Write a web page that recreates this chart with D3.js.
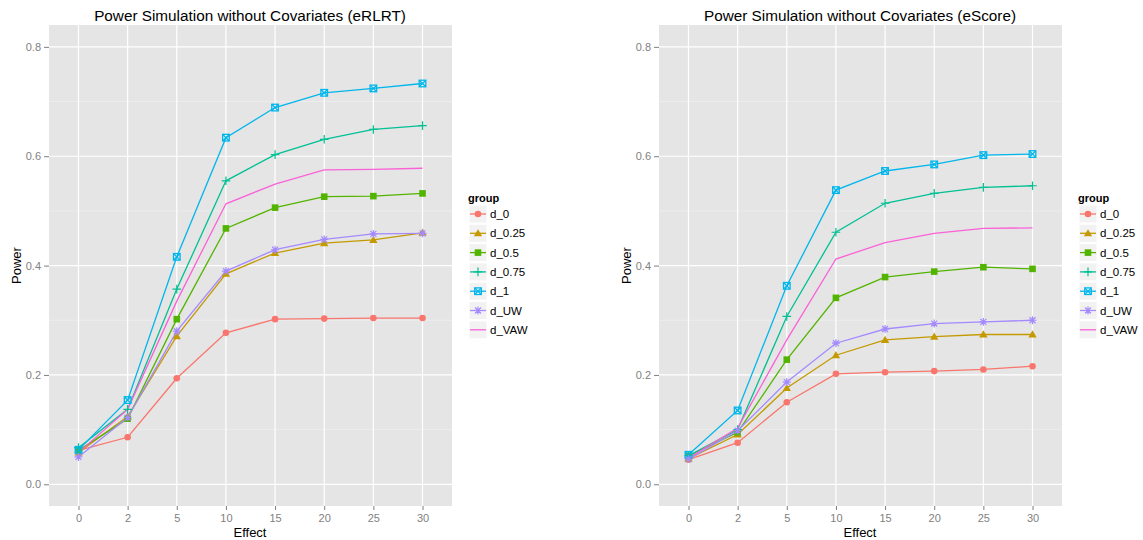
<!DOCTYPE html>
<html><head><meta charset="utf-8">
<script src="https://cdn.jsdelivr.net/npm/d3@7"></script>
<style>body{margin:0;background:#fff;} text{font-family:"Liberation Sans",Arial,sans-serif;}</style>
</head><body><svg id="chart" width="1143" height="540"></svg>
<script>
const effects = ["0","2","5","10","15","20","25","30"];
const groups = ["d_0","d_0.25","d_0.5","d_0.75","d_1","d_UW","d_VAW"];
const colors = ["#F8766D","#C49A00","#53B400","#00C094","#00B6EB","#A58AFF","#FB61D7"];
const shapes = ["circle","triangle","square","plus","boxx","asterisk","none"];
const yTicks = [0.0,0.2,0.4,0.6,0.8];
const titles = ["Power Simulation without Covariates (eRLRT)","Power Simulation without Covariates (eScore)"];

// eRLRT
const rlrt_d0   = [0.062,0.086,0.194,0.277,0.302,0.303,0.304,0.304];
const rlrt_d025 = [0.058,0.124,0.271,0.385,0.423,0.441,0.447,0.460];
const rlrt_d05  = [0.062,0.120,0.302,0.468,0.506,0.526,0.527,0.532];
const rlrt_d075 = [0.067,0.137,0.357,0.555,0.603,0.631,0.649,0.656];
const rlrt_d1   = [0.063,0.154,0.416,0.634,0.689,0.716,0.724,0.733];
const rlrt_dUW  = [0.050,0.122,0.280,0.390,0.429,0.448,0.458,0.459];
const rlrt_dVAW = [0.058,0.137,0.335,0.513,0.549,0.575,0.576,0.578];
// eScore
const score_d0   = [0.045,0.076,0.150,0.202,0.205,0.207,0.210,0.216];
const score_d025 = [0.047,0.091,0.176,0.236,0.264,0.270,0.274,0.274];
const score_d05  = [0.052,0.095,0.228,0.341,0.379,0.389,0.397,0.394];
const score_d075 = [0.052,0.100,0.307,0.461,0.514,0.532,0.543,0.546];
const score_d1   = [0.054,0.135,0.363,0.538,0.573,0.585,0.602,0.604];
const score_dUW  = [0.046,0.098,0.187,0.258,0.284,0.294,0.297,0.300];
const score_dVAW = [0.048,0.103,0.264,0.412,0.442,0.459,0.468,0.469];

const panelsData = [
  [rlrt_d0,rlrt_d025,rlrt_d05,rlrt_d075,rlrt_d1,rlrt_dUW,rlrt_dVAW],
  [score_d0,score_d025,score_d05,score_d075,score_d1,score_dUW,score_dVAW]
];

const svg = d3.select("#chart");
svg.append("rect").attr("width",1143).attr("height",540).attr("fill","#fff");

function drawShape(g, shape, x, y, color){
  const s = 3.3;
  if(shape==="circle"){
    g.append("circle").attr("cx",x).attr("cy",y).attr("r",s).attr("fill",color);
  } else if(shape==="triangle"){
    const h=s*1.15;
    g.append("path").attr("d",`M${x},${y-h*1.1}L${x+h*1.1},${y+h*0.8}L${x-h*1.1},${y+h*0.8}Z`).attr("fill",color);
  } else if(shape==="square"){
    g.append("rect").attr("x",x-s).attr("y",y-s).attr("width",2*s).attr("height",2*s).attr("fill",color);
  } else if(shape==="plus"){
    const r=s*1.3;
    g.append("path").attr("d",`M${x-r},${y}H${x+r}M${x},${y-r}V${y+r}`).attr("stroke",color).attr("stroke-width",1.2).attr("fill","none");
  } else if(shape==="boxx"){
    const r=s;
    g.append("rect").attr("x",x-r).attr("y",y-r).attr("width",2*r).attr("height",2*r).attr("fill","none").attr("stroke",color).attr("stroke-width",1.3);
    g.append("path").attr("d",`M${x-r},${y-r}L${x+r},${y+r}M${x+r},${y-r}L${x-r},${y+r}`).attr("stroke",color).attr("stroke-width",1.3);
  } else if(shape==="asterisk"){
    const r=s*1.2, q=r*0.75;
    g.append("path").attr("d",`M${x-r},${y}H${x+r}M${x},${y-r}V${y+r}M${x-q},${y-q}L${x+q},${y+q}M${x+q},${y-q}L${x-q},${y+q}`).attr("stroke",color).attr("stroke-width",1.2).attr("fill","none");
  }
}

const panelX = [49, 659];
const pw = 403, pTop = 25, pBottom = 506;
const centers = [250, 860];

panelsData.forEach((series, pi) => {
  const x0 = panelX[pi];
  const x = d3.scalePoint().domain(effects).range([x0, x0+pw]).padding(0.6);
  const y = d3.scaleLinear().domain([-0.0397, 0.840]).range([pBottom, pTop]);
  const g = svg.append("g");
  g.append("rect").attr("x",x0).attr("y",pTop).attr("width",pw).attr("height",pBottom-pTop).attr("fill","#E5E5E5");
  [0.1,0.3,0.5,0.7].forEach(v=>{
    g.append("line").attr("x1",x0).attr("x2",x0+pw).attr("y1",y(v)).attr("y2",y(v)).attr("stroke","#F2F2F2").attr("stroke-width",0.6);
  });
  yTicks.forEach(v=>{
    g.append("line").attr("x1",x0).attr("x2",x0+pw).attr("y1",y(v)).attr("y2",y(v)).attr("stroke","#fff").attr("stroke-width",1.2);
  });
  effects.forEach(e=>{
    g.append("line").attr("x1",x(e)).attr("x2",x(e)).attr("y1",pTop).attr("y2",pBottom).attr("stroke","#fff").attr("stroke-width",1.2);
  });
  const yAxis = d3.axisLeft(y).tickValues(yTicks).tickFormat(d3.format(".1f")).tickSize(5).tickPadding(3);
  const ya = g.append("g").attr("transform",`translate(${x0},0)`).call(yAxis);
  ya.select(".domain").remove();
  ya.selectAll("line").attr("stroke","#7F7F7F");
  ya.selectAll("text").attr("fill","#7F7F7F").style("font-size","11px");
  const xAxis = d3.axisBottom(x).tickSize(4).tickPadding(4);
  const xa = g.append("g").attr("transform",`translate(0,${pBottom})`).call(xAxis);
  xa.select(".domain").remove();
  xa.selectAll("line").attr("stroke","#7F7F7F");
  xa.selectAll("text").attr("fill","#7F7F7F").style("font-size","11px");
  svg.append("text").attr("x",centers[pi]).attr("y",21).attr("text-anchor","middle").style("font-size","15.3px").attr("fill","#000").text(titles[pi]);
  svg.append("text").attr("x",centers[pi]).attr("y",537).attr("text-anchor","middle").style("font-size","13px").attr("fill","#000").text("Effect");
  svg.append("text").attr("transform",`translate(${x0-28},${(pTop+pBottom)/2}) rotate(-90)`).attr("text-anchor","middle").style("font-size","13px").attr("fill","#000").text("Power");
  const line = d3.line().x((d,i)=>x(effects[i])).y(d=>y(d));
  series.forEach((vals, si)=>{
    g.append("path").datum(vals).attr("d",line).attr("fill","none").attr("stroke",colors[si]).attr("stroke-width",1.3);
  });
  series.forEach((vals, si)=>{
    vals.forEach((v,i)=>drawShape(g, shapes[si], x(effects[i]), y(v), colors[si]));
  });
  const lx = x0 + pw + 17;
  const lg = svg.append("g");
  lg.append("text").attr("x",lx-1).attr("y",202).style("font-size","11px").style("font-weight","bold").text("group");
  groups.forEach((gname, gi)=>{
    const cy = 214 + gi*19.3;
    lg.append("rect").attr("x",lx).attr("y",cy-9).attr("width",18).attr("height",18).attr("fill","#F2F2F2").attr("stroke","#fff").attr("stroke-width",1);
    lg.append("line").attr("x1",lx+1).attr("x2",lx+17).attr("y1",cy).attr("y2",cy).attr("stroke",colors[gi]).attr("stroke-width",1.3);
    drawShape(lg, shapes[gi], lx+9, cy, colors[gi]);
    lg.append("text").attr("x",lx+21).attr("y",cy+4).style("font-size","11.5px").attr("fill","#000").text(gname);
  });
});
</script></body></html>
